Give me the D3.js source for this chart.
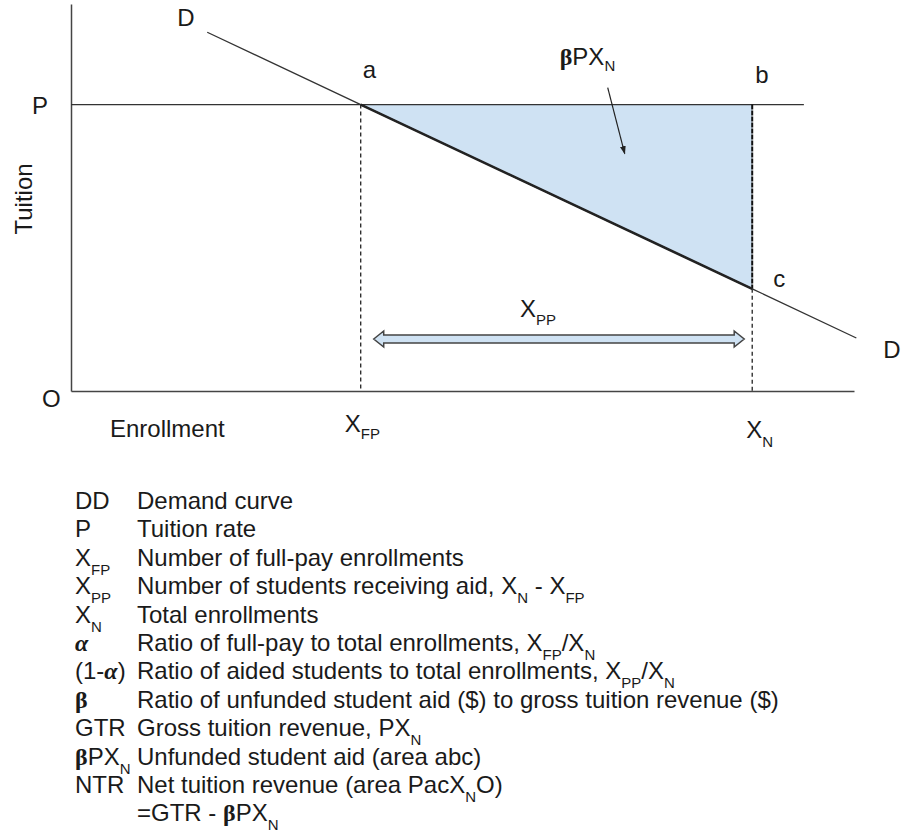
<!DOCTYPE html>
<html>
<head>
<meta charset="utf-8">
<script src="https://cdn.jsdelivr.net/npm/d3@7"></script>
<style>
  body { margin: 0; background: #fff; }
  text { font-family: "Liberation Sans", Arial, sans-serif; fill: #1a1a1a; white-space: pre; }
</style>
</head>
<body>
<div id="chart"></div>
<script>
// values (enrollment 0-100, tuition 0-100)
const priceP = 74;
const xFP = 37;
const xN = 87;
const priceLineExtent = [0, 93.6];
const demandCurve = [[17.4, 92.7], [37, 74], [87, 26.4], [100.3, 13.7]];
const unfundedArea = [[37, 74], [87, 74], [87, 26.4]];

const legendSymbols = ["DD", "P", "X_{FP}", "X_{PP}", "X_{N}", "α", "(1-α)", "β", "GTR", "βPX_{N}", "NTR", ""];
const legendTexts = [
  "Demand curve",
  "Tuition rate",
  "Number of full-pay enrollments",
  "Number of students receiving aid, X_{N} - X_{FP}",
  "Total enrollments",
  "Ratio of full-pay to total enrollments, X_{FP}/X_{N}",
  "Ratio of aided students to total enrollments, X_{PP}/X_{N}",
  "Ratio of unfunded student aid ($) to gross tuition revenue ($)",
  "Gross tuition revenue, PX_{N}",
  "Unfunded student aid (area abc)",
  "Net tuition revenue (area PacX_{N}O)",
  "=GTR - βPX_{N}"
];

const width = 904, height = 836;
const svg = d3.select("#chart").append("svg")
  .attr("width", width).attr("height", height);

const x = d3.scaleLinear().domain([0, 100]).range([71, 854]);
const y = d3.scaleLinear().domain([0, 100]).range([391, 4]);

// writes a string with _{sub} subscripts and greek symbols as tspans
function rich(textSel, str, subSize, subDy) {
  const tokens = str.match(/_\{[^}]*\}|β|α|[^_βα]+/g) || [];
  let shift = 0;
  tokens.forEach((t) => {
    const ts = textSel.append("tspan");
    if (t.startsWith("_{")) {
      ts.text(t.slice(2, -1)).attr("font-size", subSize).attr("dy", subDy - shift);
      shift = subDy;
      return;
    }
    if (shift) { ts.attr("dy", -shift); shift = 0; }
    if (t === "β") {
      ts.attr("font-family", "Liberation Serif, serif").attr("font-weight", "bold");
    } else if (t === "α") {
      ts.attr("font-family", "Liberation Serif, serif").attr("font-weight", "bold").attr("font-style", "italic");
    }
    ts.text(t);
  });
}

// shaded area abc
svg.append("path")
  .attr("d", d3.line().x((d) => x(d[0])).y((d) => y(d[1]))(unfundedArea) + "Z")
  .attr("fill", "#cfe2f3");

// axes (lines only)
const axisG = svg.append("g");
axisG.append("g").attr("transform", `translate(${x(0)},0)`)
  .call(d3.axisLeft(y).tickValues([]).tickSizeOuter(0));
axisG.append("g").attr("transform", `translate(0,${y(0)})`)
  .call(d3.axisBottom(x).tickValues([]).tickSizeOuter(0));
axisG.selectAll(".domain").attr("stroke", "#444").attr("stroke-width", 1.5);

// tuition line P
svg.append("line")
  .attr("x1", x(priceLineExtent[0])).attr("x2", x(priceLineExtent[1]))
  .attr("y1", y(priceP)).attr("y2", y(priceP))
  .attr("stroke", "#333").attr("stroke-width", 1.3);

// dashed verticals
svg.append("line")
  .attr("x1", x(xFP)).attr("x2", x(xFP))
  .attr("y1", y(priceP)).attr("y2", y(0))
  .attr("stroke", "#222").attr("stroke-width", 1.3).attr("stroke-dasharray", "4,3");
svg.append("line")
  .attr("x1", x(xN)).attr("x2", x(xN))
  .attr("y1", y(priceP)).attr("y2", y(demandCurve[2][1]))
  .attr("stroke", "#111").attr("stroke-width", 2).attr("stroke-dasharray", "5,1");
svg.append("line")
  .attr("x1", x(xN)).attr("x2", x(xN))
  .attr("y1", y(demandCurve[2][1])).attr("y2", y(0))
  .attr("stroke", "#222").attr("stroke-width", 1.3).attr("stroke-dasharray", "4,3");

// demand curve, with segment ac in bold
const line = d3.line().x((d) => x(d[0])).y((d) => y(d[1]));
svg.append("path").attr("d", line(demandCurve))
  .attr("fill", "none").attr("stroke", "#333").attr("stroke-width", 1.3);
svg.append("path").attr("d", line(demandCurve.slice(1, 3)))
  .attr("fill", "none").attr("stroke", "#222").attr("stroke-width", 2.6);

// X_PP double block arrow
const ay = y(0) - 52;
const xl = x(xFP) + 13, xr = x(xN) - 8;
const hl = 10, hh = 8, sh = 4;
const arrowPts = [
  [xl, ay], [xl + hl, ay - hh], [xl + hl, ay - sh], [xr - hl, ay - sh], [xr - hl, ay - hh],
  [xr, ay], [xr - hl, ay + hh], [xr - hl, ay + sh], [xl + hl, ay + sh], [xl + hl, ay + hh]
];
svg.append("path")
  .attr("d", d3.line()(arrowPts) + "Z")
  .attr("fill", "#cfe2f3").attr("stroke", "#444").attr("stroke-width", 1.5)
  .attr("stroke-linejoin", "miter");

// pointer arrow to area
svg.append("defs").append("marker")
  .attr("id", "head").attr("viewBox", "0 0 10 10").attr("refX", 9).attr("refY", 5)
  .attr("markerWidth", 7).attr("markerHeight", 7).attr("orient", "auto")
  .append("path").attr("d", "M0,1.5L10,5L0,8.5Z").attr("fill", "#222");
svg.append("line")
  .attr("x1", x(xFP) + 247).attr("y1", y(priceP) - 17)
  .attr("x2", x(xFP) + 264).attr("y2", y(priceP) + 49)
  .attr("stroke", "#222").attr("stroke-width", 1.2).attr("marker-end", "url(#head)");

// chart labels
const fs = 24, subFs = 15;
function label(px, py, str, subDy = 8, anchor = "start") {
  const t = svg.append("text").attr("x", px).attr("y", py)
    .attr("font-size", fs).attr("text-anchor", anchor);
  rich(t, str, subFs, subDy);
  return t;
}
label(x(demandCurve[0][0]) - 30, y(demandCurve[0][1]) - 6, "D");
label(x(xFP) + 2, y(priceP) - 27, "a");
label(x(xN) + 3, y(priceP) - 22, "b");
label(x(xN) + 21, y(demandCurve[2][1]) - 2, "c");
label(x(demandCurve[3][0]) + 27, y(demandCurve[3][1]) + 20, "D");
label(32, y(priceP) + 9, "P");
label(42, y(0) + 16, "O");
label(110, y(0) + 46, "Enrollment");
label(x(xFP) - 16, y(0) + 41, "X_{FP}", 7);
label(x(xN) - 6, y(0) + 47, "X_{N}", 9);
label(520, ay - 22, "X_{PP}", 8);
label(x(xFP) + 199, y(priceP) - 40, "βPX_{N}", 6);
svg.append("text")
  .attr("transform", `translate(32,${(y(0) + y(100)) / 2 + 37}) rotate(-90)`)
  .attr("font-size", fs).text("Tuition");

// legend
const legendTop = 509, rowH = 28.4;
const legendFs = 24;
legendSymbols.forEach((s, i) => {
  const yy = legendTop + i * rowH;
  const ts = svg.append("text").attr("x", 75).attr("y", yy).attr("font-size", legendFs);
  rich(ts, s, subFs, 9);
  const td = svg.append("text").attr("x", 137).attr("y", yy).attr("font-size", legendFs);
  rich(td, legendTexts[i], subFs, 9);
});
</script>
</body>
</html>
